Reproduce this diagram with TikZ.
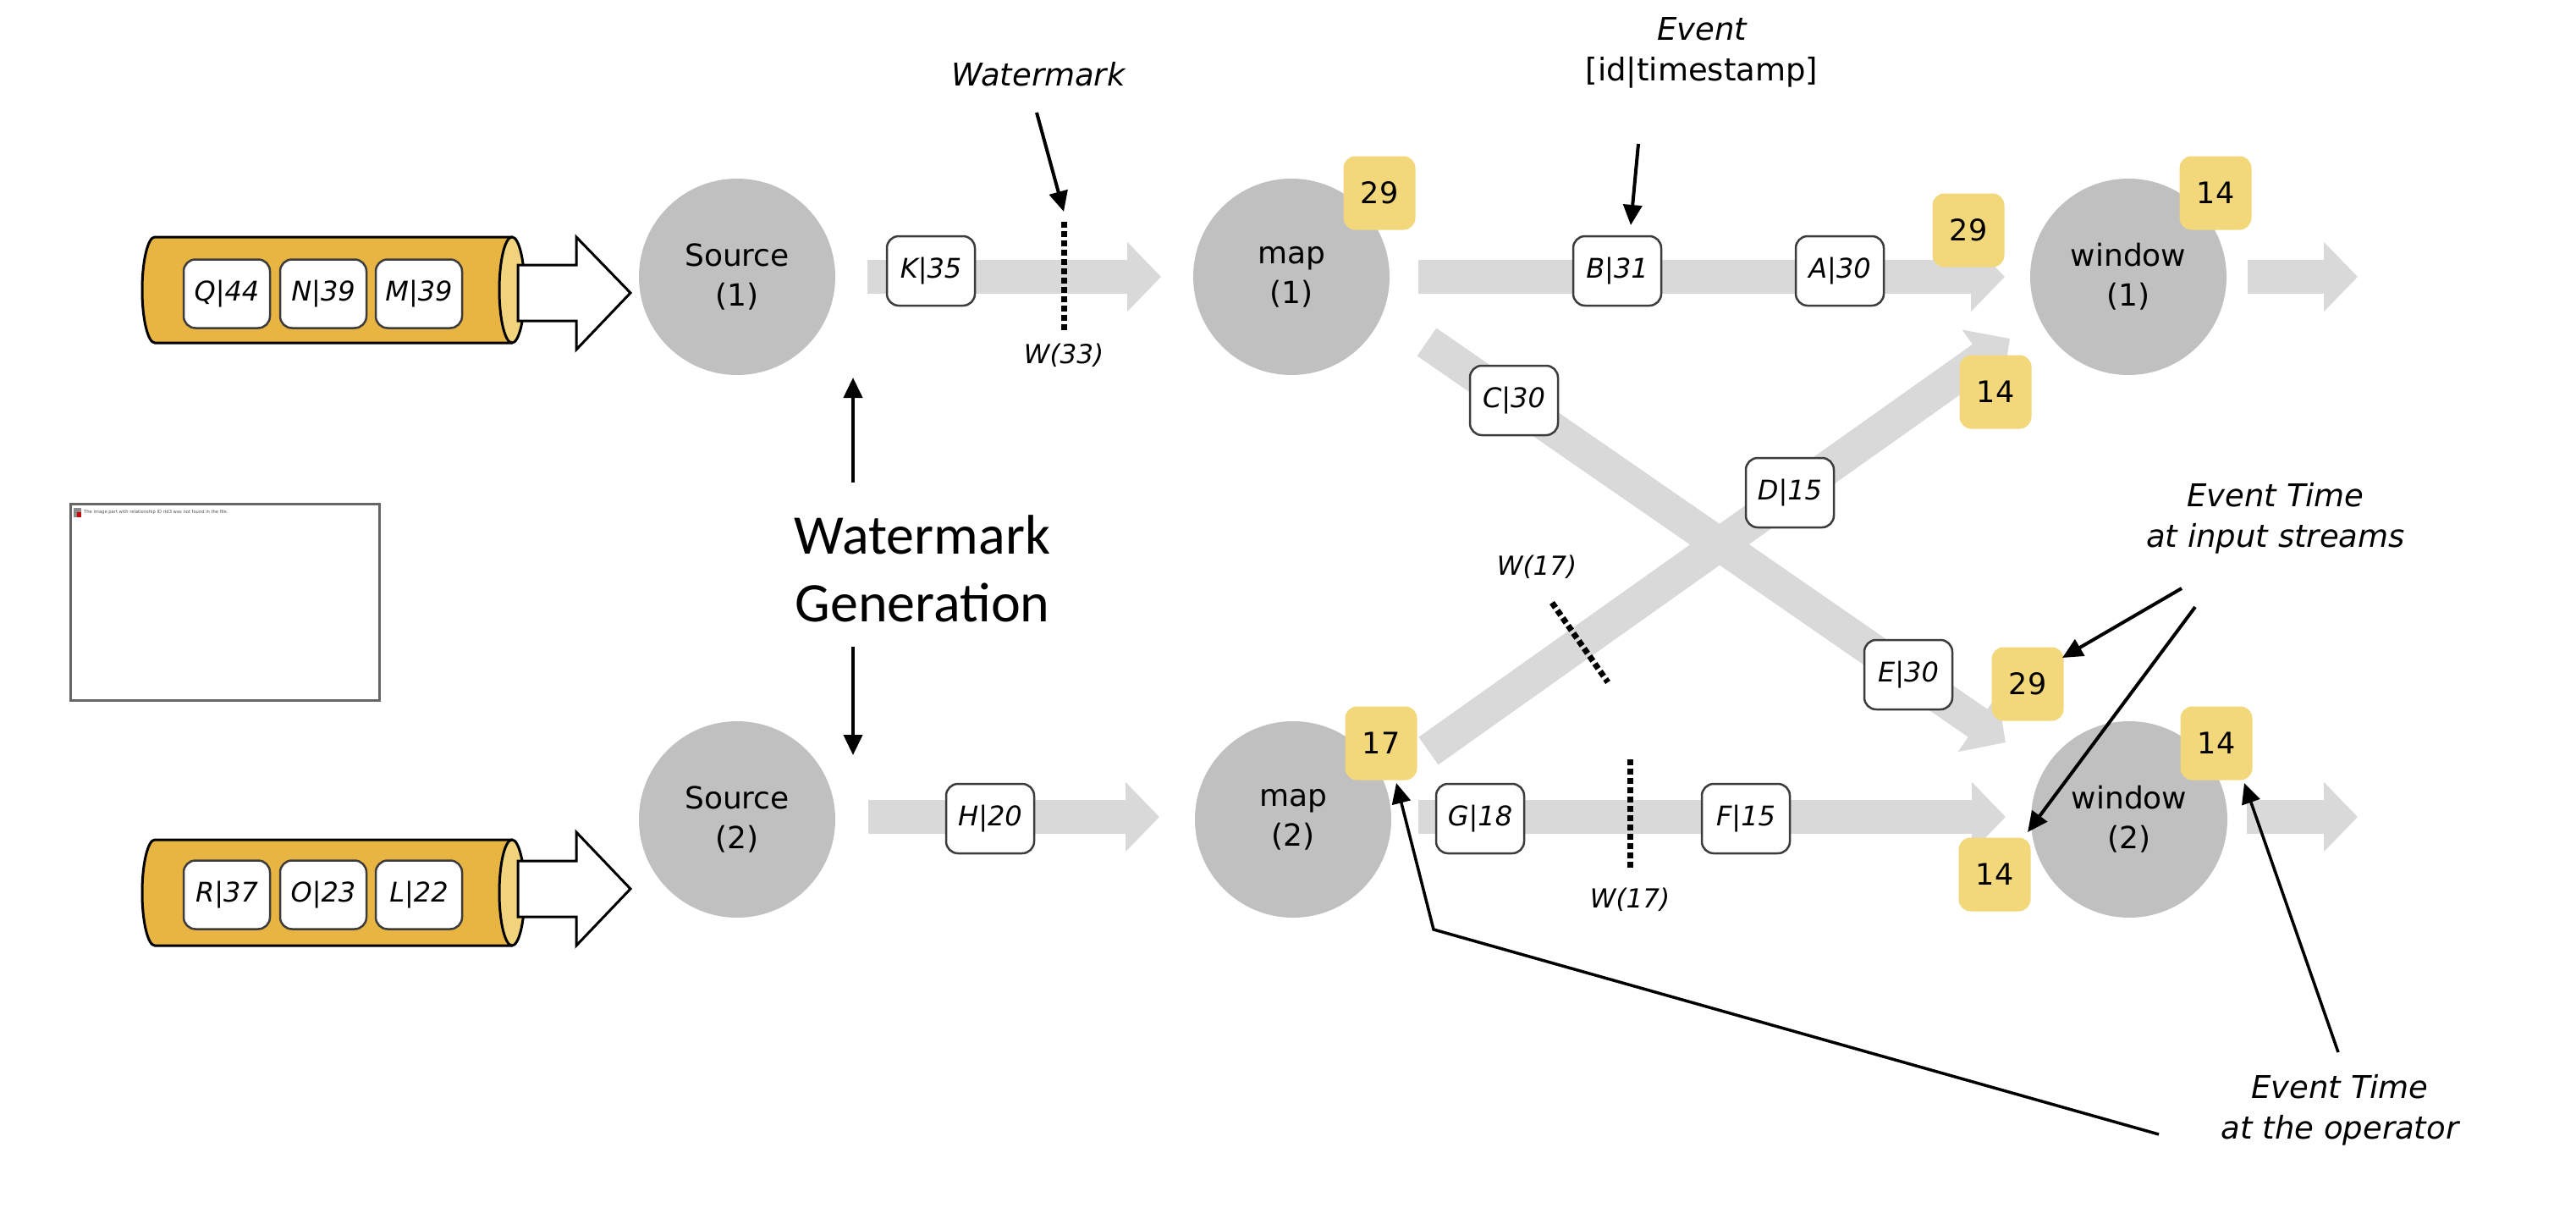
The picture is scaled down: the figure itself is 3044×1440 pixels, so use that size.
\documentclass[tikz,border=0pt]{standalone}
\usepackage{fontspec}
\setmainfont{DejaVu Sans}
\newfontfamily\calfont{Carlito}
\usetikzlibrary{arrows.meta}
\definecolor{bandgray}{RGB}{217,217,217}
\definecolor{circgray}{RGB}{192,192,192}
\definecolor{yel}{RGB}{242,216,122}
\definecolor{cylbody}{RGB}{233,181,66}
\definecolor{cylend}{RGB}{242,211,125}
\definecolor{boxline}{RGB}{60,60,60}
\begin{document}
\begin{tikzpicture}[x=1pt,y=-1pt,
  band/.style={line width=40pt, draw=bandgray, -{Triangle[length=40pt,width=80pt]}},
  opnode/.style={circle, fill=circgray, minimum size=232pt, inner sep=0pt, align=center, font=\fontsize{36}{47}\selectfont},
  evbox/.style={draw=boxline, line width=2.5pt, fill=white, rounded corners=14pt, minimum width=104pt, minimum height=82pt, inner sep=0pt, font=\fontsize{32}{38}\selectfont\itshape},
  tsbox/.style={fill=yel, rounded corners=14pt, minimum width=85pt, minimum height=87pt, inner sep=0pt, font=\fontsize{35}{40}\selectfont},
  ann/.style={font=\fontsize{37}{48}\selectfont\itshape, align=center, inner sep=0pt},
  wmlab/.style={font=\fontsize{31}{36}\selectfont\itshape, inner sep=0pt},
  wmline/.style={line width=7pt, dash pattern=on 7pt off 4pt},
  pointer/.style={line width=4pt, -{Triangle[length=24pt,width=22pt]}},
  thinpointer/.style={line width=3.5pt, -{Triangle[length=24pt,width=22pt]}}]

\useasboundingbox (0,0) rectangle (3044,1440);
\fill[white] (0,0) rectangle (3044,1440);

% ---------- cylinders (input queues) ----------
\draw[fill=cylbody, line width=3pt] (605,280) -- (183,280) arc[start angle=270, end angle=90, x radius=15, y radius=62.5] -- (605,405);
\draw[fill=cylend, line width=3pt] (605,342.5) ellipse[x radius=15, y radius=62.5];
\draw[fill=white, line width=3pt, line join=miter] (612,313) -- (681,313) -- (681,280) -- (745,346) -- (681,413) -- (681,379) -- (612,379) -- cycle;
\node[evbox, minimum width=102pt, minimum height=81pt] (q44) at (268,347) {Q|44};
\node[evbox, minimum width=102pt, minimum height=81pt] (n39) at (382,347) {N|39};
\node[evbox, minimum width=102pt, minimum height=81pt] (m39) at (495,347) {M|39};

\draw[fill=cylbody, line width=3pt] (605,992) -- (183,992) arc[start angle=270, end angle=90, x radius=15, y radius=62.5] -- (605,1117);
\draw[fill=cylend, line width=3pt] (605,1054.5) ellipse[x radius=15, y radius=62.5];
\draw[fill=white, line width=3pt, line join=miter] (612,1017) -- (681,1017) -- (681,983) -- (745,1050) -- (681,1117) -- (681,1083) -- (612,1083) -- cycle;
\node[evbox, minimum width=102pt, minimum height=81pt] (r37) at (268,1057) {R|37};
\node[evbox, minimum width=102pt, minimum height=81pt] (o23) at (382,1057) {O|23};
\node[evbox, minimum width=102pt, minimum height=81pt] (l22) at (495,1057) {L|22};

% ---------- missing image placeholder ----------
\draw[line width=3pt, draw=black!60] (83,595) rectangle (448,827);
\fill[black!45] (87,600) rectangle (96,611);
\fill[red!80!black] (91,605) rectangle (96,611);
\node[anchor=west, inner sep=0pt, font=\fontsize{5.2}{6}\selectfont, text=black!70] (phtext) at (99,605) {The image part with relationship ID rId3 was not found in the file.};

% ---------- operators ----------
\node[opnode] (src1) at (871,327) {Source\\(1)};
\node[opnode] (src2) at (871,968) {Source\\(2)};
\node[opnode] (map1) at (1526,327) {map\\(1)};
\node[opnode] (map2) at (1528,968) {map\\(2)};
\node[opnode] (win1) at (2515,327) {window\\(1)};
\node[opnode] (win2) at (2516,968) {window\\(2)};

% ---------- stream bands ----------
\coordinate (t1s) at (1025,327); \coordinate (t1e) at (1372,327);
\coordinate (b1s) at (1026,965); \coordinate (b1e) at (1370,965);
\coordinate (t2s) at (1676,327); \coordinate (t2e) at (2369,327);
\coordinate (b2s) at (1676,965); \coordinate (b2e) at (2370,965);
\coordinate (o1s) at (2656,327); \coordinate (o1e) at (2786,327);
\coordinate (o2s) at (2655,965); \coordinate (o2e) at (2786,965);
\coordinate (d1s) at (1686,404); \coordinate (d1e) at (2370,877);
\coordinate (d2s) at (1688,887); \coordinate (d2e) at (2375,400);
\draw[band] (t1s) -- (t1e);
\draw[band] (b1s) -- (b1e);
\draw[band] (t2s) -- (t2e);
\draw[band] (b2s) -- (b2e);
\draw[band] (o1s) -- (o1e);
\draw[band] (o2s) -- (o2e);
\draw[band] (d1s) -- (d1e);
\draw[band] (d2s) -- (d2e);

% ---------- events ----------
\node[evbox] (K) at (1100,320) {K|35};
\node[evbox] (B) at (1911,320) {B|31};
\node[evbox] (A) at (2174,320) {A|30};
\node[evbox] (C) at (1789,473) {C|30};
\node[evbox] (D) at (2115,582) {D|15};
\node[evbox] (E) at (2255,797) {E|30};
\node[evbox] (H) at (1170,967) {H|20};
\node[evbox] (G) at (1749,967) {G|18};
\node[evbox] (F) at (2063,967) {F|15};

% ---------- watermarks ----------
\coordinate (w1a) at (1257,262); \coordinate (w1b) at (1257,392);
\draw[wmline] (w1a) -- (w1b);
\node[wmlab] (w33) at (1257,420) {W(33)};
\coordinate (w2a) at (1926,897); \coordinate (w2b) at (1926,1025);
\draw[wmline] (w2a) -- (w2b);
\node[wmlab] (w17b) at (1926,1063) {W(17)};
\coordinate (w3a) at (1834,712); \coordinate (w3b) at (1900,806);
\draw[wmline] (w3a) -- (w3b);
\node[wmlab] (w17d) at (1816,670) {W(17)};

% ---------- timestamps ----------
\node[tsbox] (ts1) at (1630,228) {29};
\node[tsbox] (ts2) at (2326,272) {29};
\node[tsbox] (ts3) at (2618,228) {14};
\node[tsbox] (ts4) at (2358,463) {14};
\node[tsbox] (ts5) at (2396,808) {29};
\node[tsbox] (ts6) at (2619,878) {14};
\node[tsbox] (ts7) at (2357,1033) {14};
\node[tsbox] (ts8) at (1632,878) {17};

% ---------- annotations ----------
\node[ann] (wmtext) at (1227,88) {Watermark};
\coordinate (wmA) at (1225,133); \coordinate (wmB) at (1257,250);
\draw[pointer] (wmA) -- (wmB);

\node[ann] (evtext) at (2011,62) {Event\\{\upshape [id|timestamp]}};
\coordinate (evA) at (1936,170); \coordinate (evB) at (1927,266);
\draw[pointer] (evA) -- (evB);

\node[ann] (instream) at (2689,612) {Event Time\\at input streams};
\coordinate (isA) at (2578,695); \coordinate (isB) at (2437,777);
\coordinate (isC) at (2594,717); \coordinate (isD) at (2396,983);
\draw[pointer] (isA) -- (isB);
\draw[pointer] (isC) -- (isD);

\node[ann] (atop) at (2765,1311) {Event Time\\at the operator};
\coordinate (opA) at (2551,1340); \coordinate (opK) at (1694,1098); \coordinate (opB) at (1650,925);
\coordinate (opC) at (2763,1243); \coordinate (opD) at (2652,925);
\draw[thinpointer] (opA) -- (opK) -- (opB);
\draw[thinpointer] (opC) -- (opD);

\node[align=center, inner sep=0pt, font=\calfont\fontsize{66}{80}\selectfont] (wmgen) at (1090,672) {Watermark\\Generation};
\coordinate (wgA) at (1008,570); \coordinate (wgB) at (1008,446);
\coordinate (wgC) at (1008,764); \coordinate (wgD) at (1008,892);
\draw[pointer] (wgA) -- (wgB);
\draw[pointer] (wgC) -- (wgD);

\end{tikzpicture}
\end{document}
